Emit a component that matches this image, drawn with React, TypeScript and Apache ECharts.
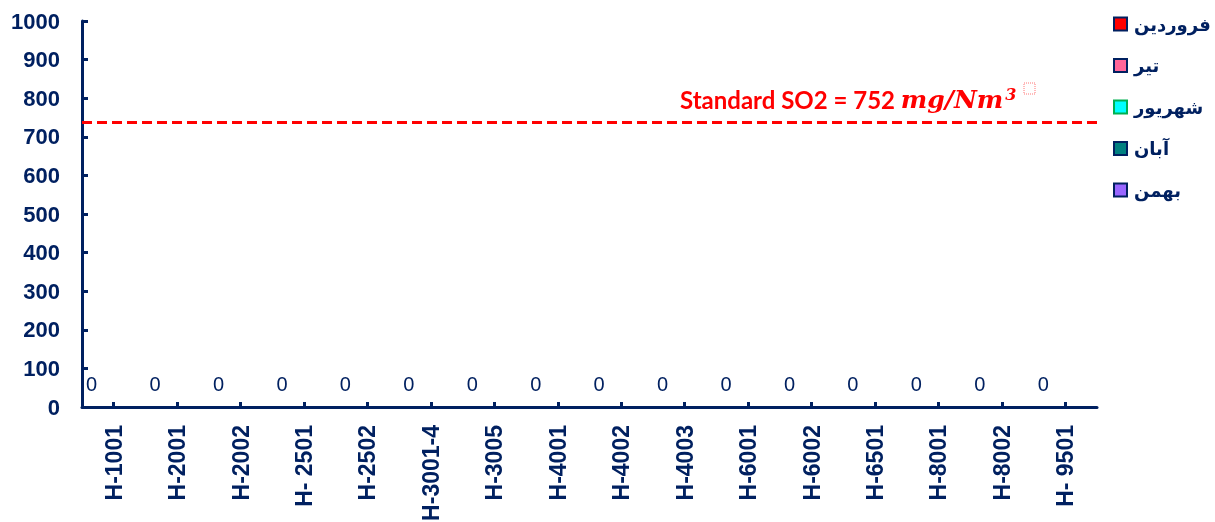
import React, { useEffect, useRef } from "react";
import * as echarts from "echarts";

const categories = [
  "H-1001", "H-2001", "H-2002", "H- 2501", "H-2502", "H-3001-4", "H-3005", "H-4001",
  "H-4002", "H-4003", "H-6001", "H-6002", "H-6501", "H-8001", "H-8002", "H- 9501",
];
const seriesNames = ["فروردین", "تیر", "شهریور", "آبان", "بهمن"];
const farvardinValues = [0, 0, 0, 0, 0, 0, 0, 0, 0, 0, 0, 0, 0, 0, 0, 0];
const tirValues = [0, 0, 0, 0, 0, 0, 0, 0, 0, 0, 0, 0, 0, 0, 0, 0];
const shahrivarValues = [0, 0, 0, 0, 0, 0, 0, 0, 0, 0, 0, 0, 0, 0, 0, 0];
const abanValues = [0, 0, 0, 0, 0, 0, 0, 0, 0, 0, 0, 0, 0, 0, 0, 0];
const bahmanValues = [0, 0, 0, 0, 0, 0, 0, 0, 0, 0, 0, 0, 0, 0, 0, 0];
const standardLineValue = 737;
const yMin = 0;
const yMax = 1000;
const yInterval = 100;

const NAVY = "#002060";
const seriesFill = ["#FF0000", "#FF6699", "#00FFFF", "#008080", "#9966FF"];
const seriesBorder = [NAVY, NAVY, "#00B050", NAVY, NAVY];

export default function App() {
  const ref = useRef<HTMLDivElement>(null);
  useEffect(() => {
    if (!ref.current) return;
    const chart = echarts.init(ref.current, undefined, { renderer: "svg" });
    const allValues = [farvardinValues, tirValues, shahrivarValues, abanValues, bahmanValues];
    const series: any[] = allValues.map((vals, i) => ({
      name: seriesNames[i],
      type: "bar",
      data: vals,
      barGap: "0%",
      barCategoryGap: "13%",
      itemStyle: { color: seriesFill[i], borderWidth: 0 },
      label:
        i === 0
          ? {
              show: true,
              position: "top",
              distance: 13,
              color: NAVY,
              fontSize: 20,
              fontFamily: "Liberation Sans",
              formatter: "{c}",
            }
          : { show: false },
      markLine:
        i === 0
          ? {
              silent: true,
              symbol: "none",
              label: { show: false },
              lineStyle: { color: "#FF0000", width: 3, type: [10, 5] },
              data: [{ yAxis: standardLineValue }],
            }
          : undefined,
      z: 1,
    }));

    chart.setOption({
      animation: false,
      grid: { left: 82, right: 118, top: 21, bottom: 115, containLabel: false, outerBoundsMode: "none" },
      legend: {
        orient: "vertical",
        left: 1108,
        top: 10,
        icon: "rect",
        itemWidth: 13,
        itemHeight: 13,
        itemGap: 23.5,
        data: seriesNames.map((n, i) => ({
          name: n,
          itemStyle: { color: seriesFill[i], borderColor: seriesBorder[i], borderWidth: 2 },
        })),
        textStyle: {
          color: NAVY,
          fontSize: 18,
          fontWeight: "bold",
          fontFamily: "DejaVu Sans",
          padding: [0, 0, 0, 2],
        },
      },
      xAxis: {
        type: "category",
        data: categories,
        z: 5,
        axisLine: { lineStyle: { color: NAVY, width: 3 } },
        axisTick: { show: true, inside: true, alignWithLabel: true, length: 5, lineStyle: { color: NAVY, width: 3 } },
        axisLabel: {
          rotate: 90,
          margin: 18,
          color: NAVY,
          fontSize: 23,
          fontWeight: "bold",
          fontFamily: "Liberation Sans",
          interval: 0,
        },
      },
      yAxis: {
        type: "value",
        min: yMin,
        max: yMax,
        interval: yInterval,
        splitLine: { show: false },
        axisLine: { show: true, lineStyle: { color: NAVY, width: 3 } },
        axisTick: { show: true, inside: true, length: 6, lineStyle: { color: NAVY, width: 3 } },
        axisLabel: {
          margin: 22,
          color: NAVY,
          fontSize: 22,
          fontWeight: "bold",
          fontFamily: "Liberation Sans",
          formatter: (v: number) => String(v),
        },
      },
      graphic: [
        {
          type: "text",
          left: 680,
          top: 86,
          style: {
            text: "{a|Standard SO2 = 752 }{b|mg/Nm}{c|3}",
            rich: {
              a: { fill: "#FF0000", fontSize: 24, fontWeight: "bold", fontFamily: "Lato" },
              b: { fill: "#FF0000", fontSize: 25, fontStyle: "italic", fontWeight: "bold", fontFamily: "DejaVu Serif" },
              c: { fill: "#FF0000", fontSize: 16, fontStyle: "italic", fontWeight: "bold", fontFamily: "DejaVu Serif", verticalAlign: "top", padding: [0, 0, 10, 2] },
            },
          },
        },
        {
          type: "rect",
          shape: { x: 1024, y: 83, width: 11, height: 11 },
          style: { fill: "none", stroke: "#FF7777", lineWidth: 1, lineDash: [1, 1] },
        },
      ],
      series,
    });
    return () => chart.dispose();
  }, []);
  return (
    <div
      ref={ref}
      style={{ position: "fixed", left: 0, top: 0, width: 1215, height: 522 }}
    />
  );
}
